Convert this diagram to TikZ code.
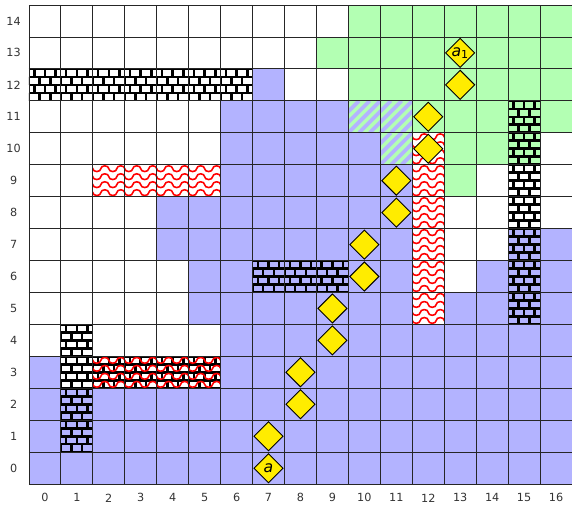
\documentclass[tikz,border=0pt]{standalone}
\usepackage{fontspec}
\setmainfont{DejaVu Sans}
\usetikzlibrary{shapes.geometric}
\definecolor{cellblue}{RGB}{179,179,255}
\definecolor{cellgreen}{RGB}{179,255,179}
\definecolor{gemyellow}{RGB}{255,236,0}

\newcommand{\brickcell}[2]{%
  \begin{scope}
    \clip (#1,#2) rectangle ++(1,1);
    \foreach \k in {0,...,4} {\draw[mortar] (#1,#2+0.25*\k) -- ++(1,0);}
    \foreach \k in {0,2} {
      \foreach \m in {0,1,2} {\draw[mortar] (#1+\m/3,#2+0.25*\k) -- ++(0,0.25);}
      \foreach \m in {0,1,2} {\draw[mortar] (#1+\m/3+1/6,#2+0.25*\k+0.25) -- ++(0,0.25);}
    }
  \end{scope}}
\newcommand{\wavecell}[2]{%
  \begin{scope}
    \clip (#1,#2) rectangle ++(1,1);
    \foreach \k in {0,...,3} {
      \draw[wave] (#1-0.25,#2+0.125+0.25*\k)
        \foreach \n in {0,...,2} {
          arc[start angle=180,end angle=0,x radius=0.125,y radius=0.09]
          arc[start angle=180,end angle=360,x radius=0.125,y radius=0.09]};
    }
  \end{scope}}
\newcommand{\hatchcell}[2]{%
  \begin{scope}
    \clip (#1,#2) rectangle ++(1,1);
    \fill[cellgreen] (#1,#2) rectangle ++(1,1);
    \foreach \k in {-3,...,3} {\draw[stripe] (#1+\k/3,#2) -- ++(1,1);}
  \end{scope}}

\begin{document}
\begin{tikzpicture}[
  mortar/.style={black,line width=0.08cm},
  wave/.style={red,line width=1.4pt},
  stripe/.style={cellblue,line width=0.118cm},
  gridline/.style={black!85,line width=0.7pt},
  gem/.style={diamond,draw=black,fill=gemyellow,line width=0.8pt,
    minimum width=0.92cm,minimum height=0.92cm,inner sep=0pt,
    font=\fontsize{14}{14}\selectfont},
  lbl/.style={font=\fontsize{10}{12}\selectfont,text=black!80}]
\useasboundingbox (-0.906,-0.778) rectangle (17,15.156);

\foreach \r/\a/\b in {0/0/17,1/0/17,2/0/17,3/0/1,3/6/17,4/6/17,5/5/12,5/13/17,
    6/5/12,6/14/17,7/4/12,7/15/17,8/4/12,9/6/12,10/6/11,11/6/10,12/7/8}
  {\fill[cellblue] (\a,\r) rectangle (\b,\r+1);}
\foreach \r/\a/\b in {9/13/14,10/13/16,11/12/17,12/10/17,13/9/17,14/10/17}
  {\fill[cellgreen] (\a,\r) rectangle (\b,\r+1);}

\foreach \x/\y in {10/11,11/11,11/10} {\hatchcell{\x}{\y}}
\foreach \x/\y in {0/12,1/12,2/12,3/12,4/12,5/12,6/12,1/1,1/2,1/3,1/4,
    7/6,8/6,9/6,15/5,15/6,15/7,15/8,15/9,15/10,15/11,2/3,3/3,4/3,5/3}
  {\brickcell{\x}{\y}}
\foreach \x/\y in {2/9,3/9,4/9,5/9,12/5,12/6,12/7,12/8,12/9,12/10,2/3,3/3,4/3,5/3}
  {\wavecell{\x}{\y}}

\draw[gridline] (0,0) grid (17,15);

\node[gem] (gemA) at (7.5,0.5) {\textit{a}};
\node[gem] (gem1) at (7.5,1.5) {};
\node[gem] (gem2) at (8.5,2.5) {};
\node[gem] (gem3) at (8.5,3.5) {};
\node[gem] (gem4) at (9.5,4.5) {};
\node[gem] (gem5) at (9.5,5.5) {};
\node[gem] (gem6) at (10.5,6.5) {};
\node[gem] (gem7) at (10.5,7.5) {};
\node[gem] (gem8) at (11.5,8.5) {};
\node[gem] (gem9) at (11.5,9.5) {};
\node[gem] (gem10) at (12.5,10.5) {};
\node[gem] (gem11) at (12.5,11.5) {};
\node[gem] (gem12) at (13.5,12.5) {};
\node[gem] (gemB) at (13.5,13.5) {\textit{a}\textsubscript{1}};

\foreach \i in {0,...,16} {\node[lbl] (col\i) at (\i+0.5,-0.43) {\i};}
\foreach \j in {0,...,14} {\node[lbl] (row\j) at (-0.48,\j+0.5) {\j};}
\end{tikzpicture}
\end{document}
